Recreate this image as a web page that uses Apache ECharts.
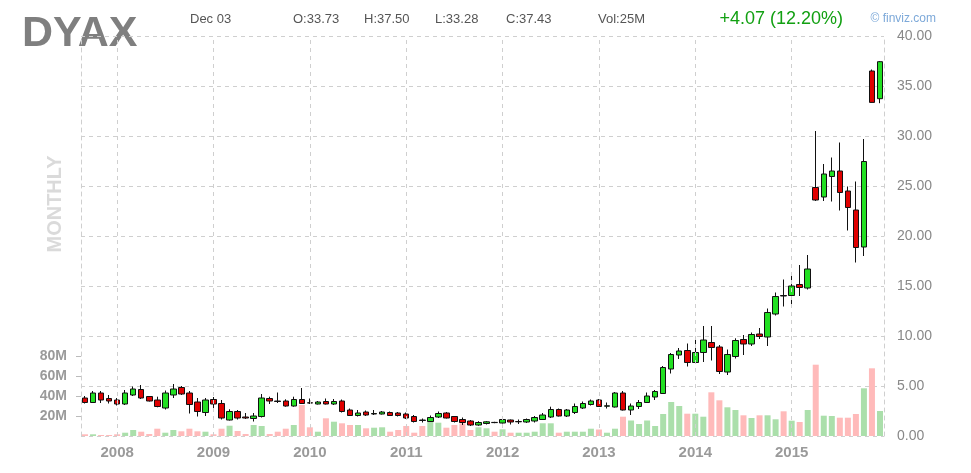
<!DOCTYPE html>
<html><head><meta charset="utf-8">
<script src="https://cdn.jsdelivr.net/npm/echarts@6/dist/echarts.min.js"></script>
<style>html,body{margin:0;padding:0;background:#fff}#c{width:971px;height:473px}</style>
</head><body><div id="c"></div>
<script>
const months = [
 '2007-09','2007-10','2007-11','2007-12',
 '2008-01','2008-02','2008-03','2008-04','2008-05','2008-06','2008-07','2008-08','2008-09','2008-10','2008-11','2008-12',
 '2009-01','2009-02','2009-03','2009-04','2009-05','2009-06','2009-07','2009-08','2009-09','2009-10','2009-11','2009-12',
 '2010-01','2010-02','2010-03','2010-04','2010-05','2010-06','2010-07','2010-08','2010-09','2010-10','2010-11','2010-12',
 '2011-01','2011-02','2011-03','2011-04','2011-05','2011-06','2011-07','2011-08','2011-09','2011-10','2011-11','2011-12',
 '2012-01','2012-02','2012-03','2012-04','2012-05','2012-06','2012-07','2012-08','2012-09','2012-10','2012-11','2012-12',
 '2013-01','2013-02','2013-03','2013-04','2013-05','2013-06','2013-07','2013-08','2013-09','2013-10','2013-11','2013-12',
 '2014-01','2014-02','2014-03','2014-04','2014-05','2014-06','2014-07','2014-08','2014-09','2014-10','2014-11','2014-12',
 '2015-01','2015-02','2015-03','2015-04','2015-05','2015-06','2015-07','2015-08','2015-09','2015-10','2015-11','2015-12'
];
const opens = [3.80,3.35,4.30,3.75,
 3.60,3.20,4.10,4.65,3.95,3.60,2.80,4.10,4.85,4.30,3.40,2.35,
 3.65,3.25,1.60,2.45,1.90,1.75,1.95,3.75,3.50,3.50,3.00,3.65,
 3.32,3.20,3.45,3.20,3.50,2.60,2.05,2.40,2.20,2.20,2.35,2.30,
 2.20,1.95,1.60,1.45,1.90,2.30,1.95,1.65,1.50,1.10,1.25,1.36,
 1.30,1.60,1.42,1.40,1.50,1.65,1.90,2.65,2.00,2.35,2.80,3.15,
 3.60,2.98,2.90,4.30,2.60,2.95,3.35,3.90,4.25,6.70,8.10,8.55,
 7.35,8.35,9.35,8.90,6.40,7.95,9.65,9.20,10.20,9.90,12.20,14.05,
 14.05,15.15,14.80,24.85,23.90,25.95,26.50,24.50,22.60,18.90,36.50,33.73];
const highs = [4.00,4.50,4.50,4.10,
 3.80,4.60,4.95,5.10,4.00,3.93,4.55,5.20,5.00,4.50,3.80,3.80,
 3.90,3.60,2.67,2.60,2.30,2.30,4.20,3.93,4.35,3.67,3.93,4.80,
 3.75,3.50,3.75,3.70,3.65,2.75,2.60,2.55,2.60,2.50,2.45,2.40,
 2.35,2.10,1.75,2.05,2.45,2.40,2.00,1.85,1.60,1.48,1.50,1.42,
 1.75,1.65,1.65,1.75,2.00,2.30,2.93,2.75,2.70,3.25,3.45,3.65,
 3.70,3.35,4.40,4.50,3.25,3.60,4.35,4.60,7.00,8.30,8.80,9.25,
 9.70,11.00,11.00,9.10,8.65,9.77,10.10,10.35,10.80,12.75,14.35,15.65,
 16.35,17.10,18.10,30.50,27.20,27.85,29.35,24.95,25.45,29.70,36.65,37.50];
const lows = [3.25,3.30,3.30,3.25,
 3.05,3.10,4.00,3.70,3.45,2.87,2.65,3.80,4.10,2.25,1.95,2.00,
 2.70,1.65,1.55,1.65,1.70,1.45,1.85,3.20,3.30,2.93,2.93,3.20,
 3.20,3.15,3.15,3.10,2.35,2.00,1.95,2.00,2.10,2.15,2.00,1.95,
 1.70,1.35,1.35,1.40,1.80,1.75,1.35,1.10,1.00,1.02,1.15,1.28,
 1.25,1.15,1.20,1.30,1.35,1.60,1.80,1.95,1.90,2.20,2.70,3.05,
 2.90,2.75,2.85,2.55,2.10,2.70,3.30,3.60,4.20,6.25,7.70,6.95,
 7.25,7.40,7.55,6.20,6.10,7.75,8.10,9.00,9.70,9.00,12.05,12.95,
 13.20,14.00,14.65,23.50,23.50,23.45,22.55,20.55,17.35,18.00,33.35,33.28];
const closes = [3.35,4.30,3.60,3.50,
 3.20,4.30,4.70,3.80,3.50,2.95,4.30,4.70,4.20,3.15,2.45,3.60,
 3.20,1.80,2.45,1.80,1.80,2.00,3.80,3.50,3.45,3.00,3.65,3.25,
 3.30,3.40,3.20,3.45,2.45,2.05,2.30,2.10,2.25,2.40,2.05,2.05,
 1.80,1.45,1.55,1.85,2.25,1.80,1.45,1.35,1.10,1.35,1.42,1.34,
 1.65,1.40,1.45,1.65,1.85,2.10,2.65,2.00,2.60,2.95,3.25,3.50,
 2.95,3.02,4.30,2.60,3.00,3.35,4.00,4.45,6.85,8.15,8.50,7.35,
 8.35,9.60,8.85,6.45,8.15,9.55,9.20,10.15,9.95,12.35,13.95,14.00,
 15.00,14.85,16.70,23.60,26.20,26.50,24.35,22.85,18.85,27.45,33.36,37.43];
const volumesM = [1.7,1.7,1.0,1.0,
 1.7,3.3,6.0,4.3,2.0,7.3,3.3,6.0,4.7,7.3,4.7,4.3,
 1.7,7.3,10.3,5.0,2.0,11,10,2.0,4.3,7.3,11,31,
 8.7,4.3,17.7,14.3,12.7,11,11,7.7,8.3,8.7,4.3,6.0,
 10,3.3,10,14.3,13.3,8.3,11,12.7,6.0,8.7,7.7,4.3,
 6.7,3.3,3.3,3.3,4.3,12.7,12.7,3.3,4.3,4.3,4.3,7.3,
 6.5,3.3,7.3,19.3,15.5,12,15.5,10,22,34,30,22.3,
 22.3,19.3,43.7,35.7,28.7,26,20.7,18,20.7,20.7,16.7,24.7,
 15.3,14,26,71.3,20.3,20,18.3,18.3,22,47.7,67.7,25];
const yearTicks = ['2008-01','2009-01','2010-01','2011-01','2012-01','2013-01','2014-01','2015-01'];
const priceTicks = [0,5,10,15,20,25,30,35,40];
const volumeTicks = [20,40,60,80];
const ticker = 'DYAX';
const dateLabel = 'Dec 03';
const periodLabel = 'MONTHLY';

const n = closes.length - 1;
const GREEN = '#22e022', RED = '#e00000';
const VGREEN = '#abdfab', VRED = '#ffbaba';
const GRID = '#cfcfcf';
const FONT = '"Liberation Sans", Arial, sans-serif';

const candleData = months.map((m, i) => [opens[i], closes[i], lows[i], highs[i]]);
const volData = volumesM.map((v, i) => ({
  value: v,
  itemStyle: { color: closes[i] >= opens[i] ? VGREEN : VRED }
}));

const chg = closes[n] - closes[n - 1];
const pct = chg / closes[n - 1] * 100;
const ohlcTexts = ['O:' + opens[n].toFixed(2), 'H:' + highs[n].toFixed(2), 'L:' + lows[n].toFixed(2), 'C:' + closes[n].toFixed(2)];
const ohlcX = [293, 364, 435, 506];

const txt = (x, y, text, font, fill, align, extra) => Object.assign({
  type: 'text', x: x, y: y, silent: true,
  style: { text: text, font: font, fill: fill, align: align || 'left', textAlign: align || 'left', verticalAlign: 'middle', textVerticalAlign: 'middle' }
}, extra || {});

const graphics = [
  txt(22, 34, ticker, 'bold 43px ' + FONT, '#7f7f7f'),
  txt(190, 19, dateLabel, '13px ' + FONT, '#555'),
  ...ohlcTexts.map((t, k) => txt(ohlcX[k], 19, t, '13px ' + FONT, '#555')),
  txt(598, 19, 'Vol:' + Math.round(volumesM[n]) + 'M', '13px ' + FONT, '#555'),
  txt(843, 19, (chg >= 0 ? '+' : '') + chg.toFixed(2) + ' (' + pct.toFixed(2) + '%)', '18px ' + FONT, '#12a012', 'right'),
  txt(936, 19, '\u00a9 finviz.com', '12px ' + FONT, '#7da9d9', 'right'),
  txt(55, 204, periodLabel, 'bold 20px ' + FONT, '#dadada', 'center', { rotation: Math.PI / 2 })
];

const chart = echarts.init(document.getElementById('c'), null, { renderer: 'canvas' });
chart.setOption({
  animation: false,
  backgroundColor: '#fff',
  grid: { left: 81, right: 87, top: 36, bottom: 37, containLabel: false },
  xAxis: {
    type: 'category', data: months, boundaryGap: true,
    axisLine: { show: false }, axisTick: { show: false }, splitLine: { show: false },
    axisLabel: {
      interval: (idx, val) => yearTicks.indexOf(val) >= 0,
      formatter: v => v.slice(0, 4),
      color: '#9a9a9a', fontWeight: 'bold', fontSize: 15, fontFamily: FONT, margin: 9
    }
  },
  yAxis: [
    {
      type: 'value', position: 'right', min: priceTicks[0], max: priceTicks[priceTicks.length - 1], interval: 5,
      axisLine: { show: true, lineStyle: { color: GRID, type: [4, 4] } },
      axisTick: { show: false },
      splitLine: { show: true, lineStyle: { color: GRID, type: [4, 4], width: 1 } },
      axisLabel: { formatter: v => v.toFixed(2), color: '#888', fontSize: 14, fontFamily: FONT, margin: 13 }
    },
    {
      type: 'value', position: 'left', min: 0, max: 400, interval: 20,
      axisLine: { show: true, lineStyle: { color: GRID, type: [4, 4] } },
      axisTick: { show: true, length: 5, customValues: volumeTicks, lineStyle: { color: '#bbb' } },
      splitLine: { show: false },
      axisLabel: {
        customValues: volumeTicks,
        formatter: v => (volumeTicks.indexOf(v) >= 0 ? v + 'M' : ''),
        color: '#9a9a9a', fontWeight: 'bold', fontSize: 14, fontFamily: FONT, margin: 14
      }
    }
  ],
  series: [
    {
      type: 'bar', name: 'Volume', yAxisIndex: 1, data: volData, barWidth: 6, z: 1, silent: true,
      markLine: {
        silent: true, symbol: 'none', animation: false,
        label: { show: false },
        lineStyle: { color: GRID, type: [4, 4], width: 1 },
        data: yearTicks.map(t => ({ xAxis: t }))
      }
    },
    {
      type: 'candlestick', name: ticker, yAxisIndex: 0, data: candleData, barWidth: 6, z: 3, silent: true,
      itemStyle: {
        color: GREEN, color0: RED, borderColor: '#111', borderColor0: '#111', borderColorDoji: '#111', borderWidth: 1
      },
      markLine: {
        silent: true, symbol: 'none', animation: false,
        lineStyle: { opacity: 0 },
        label: {
          show: true, position: 'end', distance: 9,
          formatter: p => Number(p.value).toFixed(2),
          backgroundColor: '#ffff00', color: '#333', fontSize: 14, fontFamily: FONT, padding: [3, 3, 2, 3]
        },
        data: [{ yAxis: closes[n] }]
      }
    }
  ],
  graphic: graphics
});
</script>
</body></html>
